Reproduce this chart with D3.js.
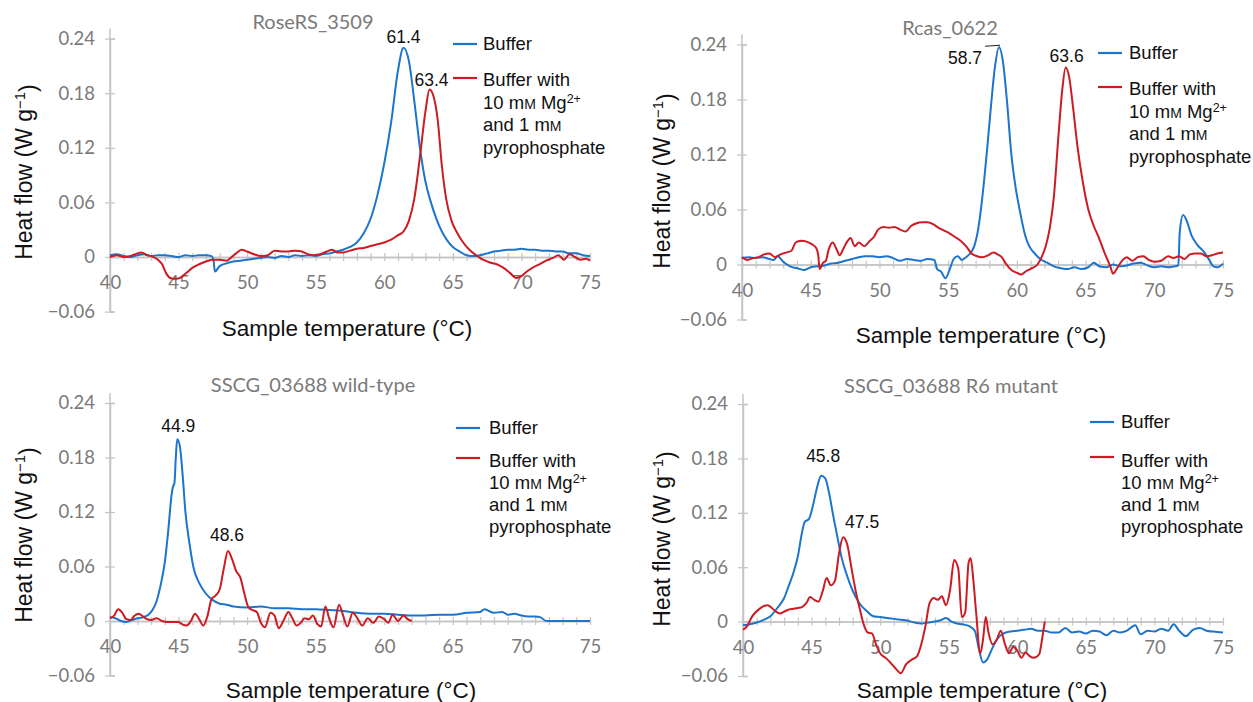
<!DOCTYPE html>
<html>
<head>
<meta charset="utf-8">
<script src="https://cdn.jsdelivr.net/npm/d3@7"></script>
<style>
body { margin: 0; background: #fff; }
</style>
</head>
<body>
<svg id="chart" width="1253" height="702"></svg>
<script>
// Axis values shared by all four thermograms
var xTicks = [40, 45, 50, 55, 60, 65, 70, 75];
var yTicks = [-0.06, 0, 0.06, 0.12, 0.18, 0.24];
var panelTitles = ["RoseRS_3509", "Rcas_0622", "SSCG_03688 wild-type", "SSCG_03688 R6 mutant"];
var peakLabels = [["61.4", "63.4"], ["58.7", "63.6"], ["44.9", "48.6"], ["45.8", "47.5"]];

// [temperature, heat flow]
var roseBuffer = [[40,0.002],[40.5,0.003],[41,0.001],[41.5,0.000],[42,0.002],[42.5,0.003],[43,0.001],[43.5,0.002],[44,0.002],[44.5,0.001],[45,0.000],[45.5,0.002],[46,0.001],[46.5,0.002],[47,0.002],[47.4,0.001],[47.55,-0.004],[47.65,-0.016],[48,-0.010],[48.5,-0.007],[49,-0.005],[49.5,-0.004],[50,-0.003],[50.5,-0.002],[51,-0.001],[51.5,0.000],[52,-0.001],[52.5,0.001],[53,0.000],[53.5,0.002],[54,0.001],[54.5,0.002],[55,0.001],[55.5,0.003],[56,0.004],[56.5,0.006],[57,0.008],[57.5,0.011],[58,0.016],[58.5,0.026],[59,0.042],[59.5,0.068],[60,0.103],[60.5,0.148],[61,0.205],[61.4,0.230],[61.8,0.215],[62.2,0.170],[62.6,0.120],[63,0.083],[63.4,0.060],[63.8,0.042],[64.2,0.028],[64.6,0.018],[65,0.011],[65.5,0.006],[66,0.002],[66.5,0.001],[67,0.002],[67.5,0.004],[68,0.006],[68.5,0.007],[69,0.008],[69.5,0.008],[70,0.009],[70.5,0.008],[71,0.008],[71.5,0.007],[72,0.007],[72.5,0.006],[73,0.006],[73.5,0.004],[74,0.004],[74.5,0.002],[75,0.001]];
var roseMg = [[40,0.000],[40.5,0.002],[41,0.000],[41.5,0.001],[42,0.004],[42.3,0.005],[42.7,0.002],[43,0.001],[43.5,-0.003],[43.8,-0.008],[44.1,-0.018],[44.4,-0.023],[44.8,-0.024],[45.2,-0.022],[45.6,-0.017],[46,-0.012],[46.5,-0.008],[47,-0.005],[47.5,-0.003],[48,-0.003],[48.5,-0.004],[48.8,-0.001],[49.2,0.004],[49.6,0.008],[50,0.006],[50.5,0.003],[51,0.001],[51.5,0.002],[52,0.007],[52.5,0.006],[53,0.006],[53.5,0.007],[54,0.006],[54.3,0.004],[54.8,0.002],[55.3,0.003],[55.8,0.006],[56.2,0.008],[56.6,0.005],[57,0.005],[57.5,0.007],[58,0.009],[58.5,0.010],[59,0.012],[59.5,0.014],[60,0.016],[60.5,0.019],[61,0.024],[61.4,0.028],[61.8,0.040],[62.2,0.065],[62.6,0.110],[63,0.160],[63.3,0.184],[63.6,0.176],[63.9,0.150],[64.2,0.100],[64.5,0.065],[64.9,0.040],[65.3,0.027],[65.7,0.017],[66.2,0.008],[66.7,0.002],[67.2,-0.003],[67.7,-0.006],[68.2,-0.008],[68.7,-0.012],[69.2,-0.018],[69.6,-0.023],[70,-0.021],[70.4,-0.016],[70.8,-0.012],[71.3,-0.008],[71.8,-0.004],[72.3,-0.001],[72.7,0.002],[73.1,-0.003],[73.5,0.003],[73.9,0.000],[74.3,-0.003],[74.7,-0.002],[75,-0.004]];

var rcasBuffer = [[40,0.007],[40.5,0.008],[41,0.007],[41.5,0.008],[42,0.006],[42.3,0.005],[42.6,0.009],[43,0.003],[43.5,-0.002],[44,-0.004],[44.5,-0.006],[45,-0.003],[45.5,-0.002],[46,-0.001],[46.5,0.001],[47,0.002],[47.5,0.004],[48,0.006],[48.5,0.008],[49,0.009],[49.5,0.009],[50,0.008],[50.5,0.009],[51,0.007],[51.5,0.004],[52,0.006],[52.5,0.005],[53,0.004],[53.5,0.006],[54,0.005],[54.2,-0.005],[54.5,-0.008],[54.8,-0.015],[55.1,-0.006],[55.4,0.006],[55.7,0.009],[56,0.005],[56.3,0.008],[56.6,0.012],[56.9,0.020],[57.2,0.040],[57.5,0.075],[57.8,0.120],[58.1,0.170],[58.4,0.215],[58.7,0.237],[59,0.220],[59.3,0.175],[59.6,0.120],[59.9,0.085],[60.2,0.060],[60.6,0.032],[60.9,0.020],[61.3,0.012],[61.7,0.006],[62.2,0.002],[62.7,-0.002],[63.2,-0.004],[63.7,-0.005],[64.2,-0.003],[64.7,-0.005],[65.2,-0.003],[65.6,0.002],[66,-0.002],[66.5,-0.003],[67,0.000],[67.5,-0.002],[68,-0.001],[68.5,0.001],[69,0.002],[69.5,-0.001],[70,-0.003],[70.5,-0.002],[71,-0.003],[71.5,-0.002],[71.75,-0.001],[71.85,0.035],[72.1,0.054],[72.4,0.046],[72.7,0.032],[73.1,0.022],[73.6,0.014],[74,0.005],[74.3,-0.002],[74.6,-0.003],[75,0.001]];
var rcasMg = [[40,0.008],[40.4,0.005],[40.8,0.007],[41.2,0.008],[41.6,0.011],[42,0.012],[42.4,0.008],[42.8,0.011],[43.2,0.013],[43.6,0.015],[43.9,0.024],[44.3,0.026],[44.7,0.025],[45.1,0.022],[45.4,0.018],[45.55,0.010],[45.65,-0.005],[45.9,0.002],[46.1,0.004],[46.3,0.016],[46.6,0.024],[46.9,0.016],[47.1,0.010],[47.4,0.018],[47.7,0.026],[47.9,0.029],[48.2,0.020],[48.5,0.024],[48.9,0.020],[49.3,0.026],[49.6,0.030],[49.9,0.038],[50.3,0.041],[50.7,0.040],[51.1,0.041],[51.5,0.038],[51.9,0.036],[52.3,0.042],[52.7,0.045],[53.1,0.046],[53.5,0.046],[53.9,0.044],[54.3,0.040],[54.7,0.037],[55.1,0.034],[55.5,0.030],[55.9,0.026],[56.3,0.020],[56.7,0.012],[57.1,0.009],[57.5,0.008],[57.9,0.010],[58.3,0.013],[58.6,0.011],[58.9,0.008],[59.2,0.001],[59.6,-0.006],[60,-0.009],[60.3,-0.011],[60.7,-0.007],[61.1,-0.004],[61.5,0.000],[61.8,0.008],[62.1,0.020],[62.4,0.040],[62.7,0.075],[63,0.135],[63.3,0.190],[63.55,0.215],[63.8,0.205],[64.1,0.170],[64.4,0.130],[64.8,0.090],[65.2,0.060],[65.6,0.042],[66,0.028],[66.4,0.012],[66.8,-0.002],[67,-0.010],[67.3,-0.004],[67.7,0.005],[68,0.008],[68.4,0.004],[68.8,0.008],[69.2,0.009],[69.6,0.005],[70,0.003],[70.5,0.004],[71,0.009],[71.4,0.007],[71.8,0.009],[72.2,0.006],[72.6,0.011],[73,0.012],[73.4,0.012],[73.8,0.009],[74.2,0.010],[74.6,0.012],[75,0.013]];

var wtBuffer = [[40,0.004],[40.4,0.003],[40.8,0.000],[41.2,-0.001],[41.6,0.001],[42,0.003],[42.4,0.004],[42.8,0.007],[43.1,0.012],[43.4,0.022],[43.7,0.040],[44,0.065],[44.25,0.100],[44.5,0.140],[44.6,0.148],[44.7,0.152],[44.8,0.180],[44.9,0.200],[45.1,0.192],[45.3,0.160],[45.5,0.120],[45.8,0.085],[46.1,0.058],[46.5,0.042],[47,0.030],[47.5,0.023],[48,0.019],[48.5,0.018],[49,0.016],[50,0.015],[51,0.016],[52,0.014],[53,0.014],[54,0.013],[55,0.013],[56,0.012],[57,0.011],[58,0.009],[59,0.008],[60,0.008],[61,0.007],[62,0.006],[63,0.006],[64,0.007],[65,0.007],[66,0.009],[67,0.010],[67.3,0.013],[68,0.009],[68.6,0.010],[69,0.007],[69.5,0.008],[70,0.006],[70.5,0.005],[71,0.005],[71.4,0.004],[71.8,0.000],[72.5,0.000],[75,0.000]];
var wtMg = [[40,0.003],[40.3,0.006],[40.6,0.013],[40.9,0.009],[41.2,0.002],[41.5,0.001],[41.8,0.006],[42.1,0.008],[42.4,0.005],[42.7,0.002],[43,0.001],[43.4,0.003],[43.8,0.000],[44.2,-0.001],[44.6,-0.001],[45,-0.001],[45.3,-0.004],[45.6,-0.005],[45.9,0.000],[46.2,0.008],[46.5,0.002],[46.8,-0.005],[47.1,0.005],[47.4,0.024],[47.7,0.028],[48,0.035],[48.3,0.058],[48.6,0.077],[48.9,0.068],[49.2,0.055],[49.5,0.048],[49.8,0.030],[50.1,0.015],[50.4,0.012],[50.7,0.010],[51,-0.002],[51.3,-0.007],[51.7,0.009],[52,0.006],[52.3,-0.008],[52.7,0.002],[53,0.010],[53.3,0.003],[53.6,-0.005],[53.9,-0.002],[54.2,0.003],[54.5,0.002],[54.8,0.006],[55.1,-0.003],[55.4,-0.006],[55.7,0.016],[56,0.002],[56.3,-0.007],[56.7,0.018],[57,0.006],[57.3,-0.006],[57.7,0.009],[58,0.004],[58.4,-0.005],[58.8,0.003],[59.2,-0.002],[59.6,0.005],[60,0.002],[60.3,-0.002],[60.6,0.007],[61,0.000],[61.4,0.006],[61.7,0.002],[62,0.000]];

var r6Buffer = [[40,-0.004],[40.5,-0.003],[41,-0.001],[41.5,0.002],[42,0.006],[42.5,0.015],[43,0.026],[43.3,0.038],[43.7,0.055],[44,0.072],[44.3,0.098],[44.5,0.110],[44.8,0.113],[45.1,0.128],[45.4,0.148],[45.7,0.161],[46,0.158],[46.3,0.140],[46.6,0.115],[46.9,0.092],[47.2,0.070],[47.6,0.050],[48,0.034],[48.5,0.020],[49,0.012],[49.5,0.006],[50,0.005],[50.5,0.004],[51,0.003],[51.5,0.002],[52,0.001],[52.5,-0.001],[53,-0.002],[53.5,-0.001],[54,0.000],[54.5,0.002],[54.8,0.004],[55.2,0.000],[55.6,-0.002],[56,-0.003],[56.5,-0.005],[56.9,-0.010],[57.2,-0.030],[57.5,-0.045],[57.8,-0.042],[58.1,-0.032],[58.5,-0.020],[59,-0.013],[59.5,-0.011],[60,-0.010],[60.5,-0.009],[61,-0.008],[61.5,-0.010],[62,-0.010],[62.5,-0.012],[63,-0.012],[63.5,-0.007],[64,-0.012],[64.5,-0.011],[65,-0.013],[65.5,-0.010],[66,-0.011],[66.5,-0.015],[67,-0.010],[67.5,-0.012],[68,-0.010],[68.6,-0.004],[69,-0.014],[69.5,-0.010],[70,-0.011],[70.5,-0.008],[71,-0.010],[71.4,-0.003],[71.8,-0.010],[72.3,-0.016],[72.8,-0.009],[73.3,-0.007],[73.8,-0.010],[74.3,-0.011],[75,-0.012]];
var r6Mg = [[40,-0.009],[40.3,-0.005],[40.6,0.004],[40.9,0.010],[41.2,0.014],[41.5,0.017],[41.8,0.018],[42.1,0.015],[42.4,0.011],[42.7,0.009],[43,0.011],[43.3,0.013],[43.6,0.014],[44,0.015],[44.3,0.016],[44.6,0.020],[44.9,0.027],[45.2,0.024],[45.5,0.022],[45.8,0.033],[46.1,0.048],[46.4,0.040],[46.7,0.045],[47,0.075],[47.3,0.093],[47.6,0.085],[47.9,0.060],[48.2,0.035],[48.5,0.015],[48.8,-0.003],[49.1,-0.012],[49.4,-0.013],[49.7,-0.025],[50,-0.035],[50.4,-0.040],[50.8,-0.046],[51.2,-0.053],[51.5,-0.057],[51.9,-0.047],[52.3,-0.042],[52.7,-0.038],[53,-0.025],[53.3,-0.005],[53.6,0.020],[53.9,0.026],[54.2,0.024],[54.5,0.028],[54.8,0.018],[55.1,0.035],[55.4,0.068],[55.7,0.058],[55.95,0.005],[56.2,0.010],[56.45,0.065],[56.6,0.070],[56.8,0.045],[57,0.010],[57.3,-0.035],[57.5,-0.020],[57.7,0.005],[57.9,-0.012],[58.2,-0.025],[58.5,-0.020],[58.8,-0.010],[59.1,-0.025],[59.4,-0.035],[59.7,-0.028],[60,-0.032],[60.3,-0.040],[60.6,-0.034],[60.9,-0.038],[61.2,-0.040],[61.6,-0.036],[61.8,-0.020],[62,0.000]];

var blue = "#1c74cc";
var red = "#cc1b22";
var axisGray = "#c4c4c4";
var tickFont = "Lato, 'Open Sans', sans-serif";
var labelFont = "'Liberation Sans', Arial, sans-serif";

// layout of the four panels (pixel boxes, legend and label offsets)
var panels = [
    { x0: 110, x1: 590, yBot: 311.6, yTop: 38.6, title: [313, 29], ytitle: [24, 172], xtitle: [347, 336],
      legend: { lx: 453, tx: 483, by: 44, ry: 78, lines: [80, 103, 125, 148] },
      series: [roseBuffer, roseMg], peaks: [[0, -5], [2, -4]] },
    { x0: 742, x1: 1223, yBot: 319.5, yTop: 44.5, title: [950, 35], ytitle: [662, 181], xtitle: [981, 343],
      legend: { lx: 1098, tx: 1129, by: 53, ry: 87, lines: [89, 112, 134, 157] },
      series: [rcasBuffer, rcasMg], peaks: [[-34, 17], [1, -5]], leader: true },
    { x0: 110, x1: 590, yBot: 675.5, yTop: 403, title: [313, 392], ytitle: [24, 535], xtitle: [351, 698],
      legend: { lx: 456, tx: 489, by: 428, ry: 458, lines: [461, 483, 505, 527] },
      series: [wtBuffer, wtMg], peaks: [[1, -7], [-1, -10]] },
    { x0: 743, x1: 1223, yBot: 676, yTop: 404, title: [951, 393], ytitle: [662, 539], xtitle: [982, 698],
      legend: { lx: 1090, tx: 1121, by: 422, ry: 457, lines: [461, 483, 505, 527] },
      series: [r6Buffer, r6Mg], peaks: [[2, -14], [19, -9]] }
];

var svg = d3.select("#chart");

panels.forEach(function (p, i) {
    var x = d3.scaleLinear().domain([40, 75]).range([p.x0, p.x1]);
    var y = d3.scaleLinear().domain([-0.06, 0.24]).range([p.yBot, p.yTop]);
    var g = svg.append("g");

    // y axis: line running a little above the top tick, ticks crossing it
    g.append("line")
        .attr("x1", p.x0).attr("x2", p.x0)
        .attr("y1", y(-0.06)).attr("y2", y(0.24) - 10)
        .attr("stroke", axisGray).attr("stroke-width", 1.5);
    var yl = g.append("g").attr("transform", "translate(" + p.x0 + ",0)")
        .call(d3.axisLeft(y).tickValues(yTicks).tickSize(5).tickPadding(10)
            .tickFormat(function (d) { return d === 0 ? "0" : d3.format(".2f")(d).replace("-", "\u2212"); }));
    g.append("g").attr("transform", "translate(" + p.x0 + ",0)")
        .call(d3.axisRight(y).tickValues(yTicks).tickSize(5).tickFormat(""));

    // zero line with small ticks each degree
    g.append("g").attr("transform", "translate(0," + y(0) + ")")
        .call(d3.axisBottom(x).tickValues(d3.range(40, 76, 1)).tickSize(4).tickSizeOuter(0).tickFormat(""));
    g.append("g").attr("transform", "translate(0," + y(0) + ")")
        .call(d3.axisTop(x).tickValues(d3.range(41, 76, 1)).tickSize(4).tickSizeOuter(0).tickFormat(""));
    var xl = g.append("g").attr("transform", "translate(0," + y(0) + ")")
        .call(d3.axisBottom(x).tickValues(xTicks).tickSize(0).tickPadding(19).tickFormat(d3.format("d")));

    g.selectAll(".domain").attr("stroke", axisGray).attr("stroke-width", 1.5);
    xl.select(".domain").remove();
    yl.select(".domain").remove();
    g.selectAll(".tick line").attr("stroke", axisGray).attr("stroke-width", 1.2);
    g.selectAll(".tick text").attr("fill", "#7a7a7a").style("font-family", tickFont).style("font-size", "18.5px");

    // traces
    var line = d3.line().x(function (d) { return x(d[0]); }).y(function (d) { return y(d[1]); })
        .curve(d3.curveMonotoneX);
    [blue, red].forEach(function (c, k) {
        g.append("path").datum(p.series[k])
            .attr("d", line).attr("fill", "none")
            .attr("stroke", c).attr("stroke-width", 2).attr("stroke-linejoin", "round");
    });

    // peak labels
    p.series.forEach(function (s, k) {
        var top = s.reduce(function (a, b) { return b[1] > a[1] ? b : a; });
        g.append("text")
            .attr("x", x(top[0]) + p.peaks[k][0])
            .attr("y", y(top[1]) + p.peaks[k][1])
            .attr("text-anchor", "middle")
            .style("font-family", labelFont).style("font-size", "17.5px").attr("fill", "#111")
            .text(peakLabels[i][k]);
        if (k === 0 && p.leader) {
            g.append("path")
                .attr("d", "M" + (x(top[0]) - 14) + "," + (y(top[1]) - 1) + "L" + (x(top[0]) + 1) + "," + (y(top[1]) - 2))
                .attr("stroke", "#222").attr("stroke-width", 1.2).attr("fill", "none");
        }
    });

    // titles
    g.append("text").attr("x", p.title[0]).attr("y", p.title[1]).attr("text-anchor", "middle")
        .style("font-family", tickFont).style("font-size", "20px").attr("fill", "#7a7a7a")
        .text(panelTitles[i]);
    g.append("text").attr("x", p.xtitle[0]).attr("y", p.xtitle[1]).attr("text-anchor", "middle")
        .style("font-family", labelFont).style("font-size", "22.5px").attr("fill", "#111")
        .text("Sample temperature (\u00b0C)");
    var yt = g.append("text")
        .attr("transform", "translate(" + p.ytitle[0] + "," + p.ytitle[1] + ") rotate(-90)")
        .attr("text-anchor", "middle").attr("dy", "0.35em")
        .style("font-family", labelFont).style("font-size", "23px").attr("fill", "#111");
    yt.append("tspan").text("Heat flow (W g");
    yt.append("tspan").attr("dy", "-0.45em").style("font-size", "15px").text("\u22121");
    yt.append("tspan").attr("dy", "0.45em").text(")");

    // legend
    var lg = p.legend;
    g.append("line").attr("x1", lg.lx).attr("x2", lg.lx + 24).attr("y1", lg.by).attr("y2", lg.by)
        .attr("stroke", blue).attr("stroke-width", 2.2);
    g.append("line").attr("x1", lg.lx).attr("x2", lg.lx + 24).attr("y1", lg.ry).attr("y2", lg.ry)
        .attr("stroke", red).attr("stroke-width", 2.2);
    var legText = function (cy) {
        return g.append("text").attr("x", lg.tx).attr("y", cy).attr("dy", "0.35em")
            .style("font-family", labelFont).style("font-size", "18.5px").attr("fill", "#111");
    };
    legText(lg.by).text("Buffer");
    legText(lg.lines[0]).text("Buffer with");
    var t2 = legText(lg.lines[1]);
    t2.append("tspan").text("10 m");
    t2.append("tspan").style("font-size", "14px").text("M");
    t2.append("tspan").text(" Mg");
    t2.append("tspan").attr("dy", "-0.5em").style("font-size", "12.5px").text("2+");
    var t3 = legText(lg.lines[2]);
    t3.append("tspan").text("and 1 m");
    t3.append("tspan").style("font-size", "14px").text("M");
    legText(lg.lines[3]).text("pyrophosphate");
});
</script>
</body>
</html>
